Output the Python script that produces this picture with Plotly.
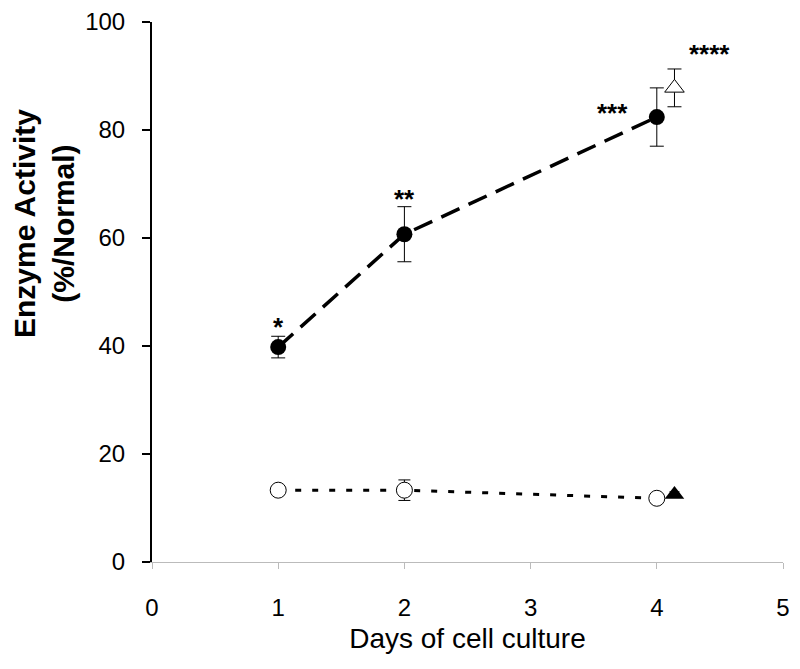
import plotly.graph_objects as go

days = [1, 2, 4]
treated = [39.8, 60.7, 82.4]
treated_err = [2.0, 5.1, 5.4]
control = [13.3, 13.3, 11.8]
control_err = [0.5, 1.9, 0.5]

tri_x = [4.14]
tri_open = [87.8]
tri_open_err = [3.5]
tri_filled = [12.5]
tri_filled_err = [0.5]

star_x = [1, 2, 3.65, 4.42]
star_y = [43.6, 67.2, 83.2, 94.0]
star_text = ["*", "**", "***", "****"]

x_ticks = [0, 1, 2, 3, 4, 5]
y_ticks = [0, 20, 40, 60, 80, 100]

FONT = "Liberation Sans, Arial, sans-serif"

fig = go.Figure()

fig.add_trace(go.Scatter(
    x=days, y=treated, mode="lines+markers",
    line=dict(color="black", width=3.5, dash="20px,10px"),
    marker=dict(symbol="circle", size=16, color="black"),
    error_y=dict(type="data", array=treated_err, color="black", thickness=1, width=7),
    showlegend=False))

fig.add_trace(go.Scatter(
    x=days, y=control, mode="lines+markers",
    line=dict(color="black", width=3, dash="6px,11px"),
    marker=dict(symbol="circle", size=16, color="white", line=dict(width=1, color="black")),
    error_y=dict(type="data", array=control_err, color="black", thickness=1, width=6),
    showlegend=False))

fig.add_trace(go.Scatter(
    x=tri_x, y=tri_open, mode="markers",
    marker=dict(symbol="triangle-up", size=17, color="white", line=dict(width=1, color="black")),
    error_y=dict(type="data", array=tri_open_err, color="black", thickness=1, width=7),
    showlegend=False))

fig.add_trace(go.Scatter(
    x=tri_x, y=tri_filled, mode="markers",
    marker=dict(symbol="triangle-up", size=17, color="black"),
    error_y=dict(type="data", array=tri_filled_err, color="black", thickness=1, width=5),
    showlegend=False))

for sx, sy, st in zip(star_x, star_y, star_text):
    fig.add_annotation(x=sx, y=sy, text="<b>" + st + "</b>", showarrow=False,
                       font=dict(family=FONT, size=26, color="black"),
                       xanchor="center", yanchor="middle")

fig.add_annotation(xref="paper", yref="paper", x=-0.171, y=0.626,
                   text="<b>Enzyme Activity<br>(%/Normal)</b>", textangle=-90,
                   showarrow=False, font=dict(family=FONT, size=30, color="black"),
                   xanchor="center", yanchor="middle")

fig.update_layout(
    template="none",
    width=792, height=661,
    margin=dict(l=144, r=17, t=14, b=107),
    paper_bgcolor="white", plot_bgcolor="white",
    font=dict(family=FONT, size=24, color="black"),
    xaxis=dict(range=[0, 5], tickvals=x_ticks, showgrid=False, zeroline=False,
               automargin=False,
               showline=True, linecolor="#bbbbbb", linewidth=1,
               ticks="outside", ticklen=6, tickcolor="#bbbbbb", tickwidth=1,
               ticklabelstandoff=18,
               tickfont=dict(size=24),
               title=dict(text="Days of cell culture", font=dict(size=28), standoff=8)),
    yaxis=dict(range=[0, 100], tickvals=y_ticks, showgrid=False, zeroline=False,
               automargin=False,
               showline=True, linecolor="black", linewidth=2,
               ticks="outside", ticklen=8, tickcolor="black", tickwidth=2,
               ticklabelstandoff=12,
               tickfont=dict(size=24)),
)

fig.write_html("out.html")
